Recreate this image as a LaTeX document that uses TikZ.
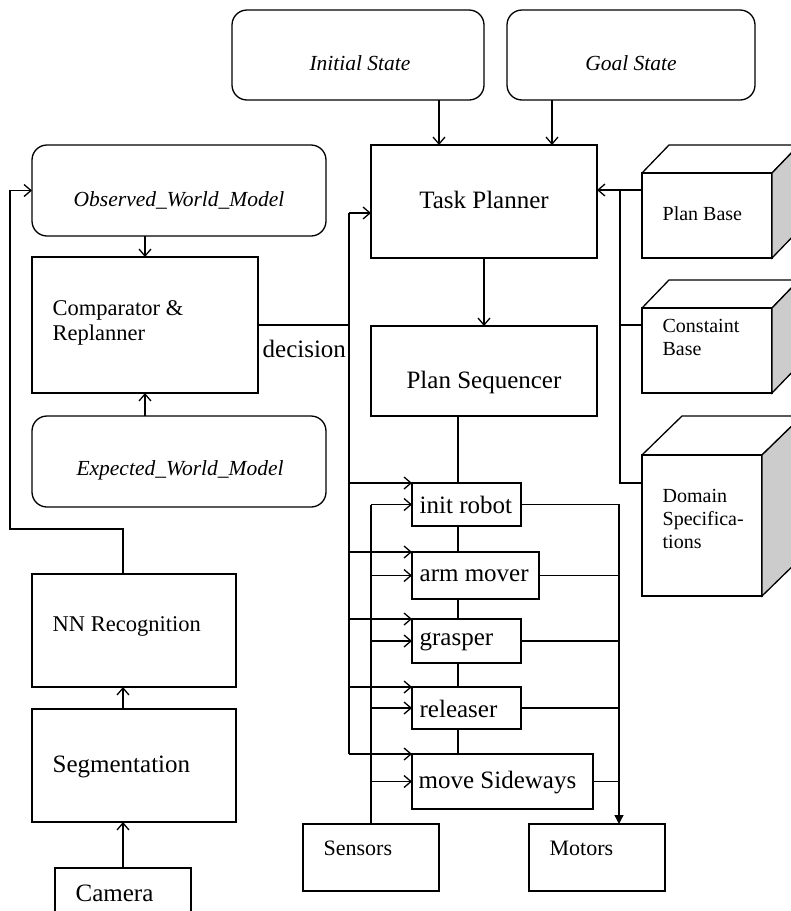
\documentclass[tikz,border=0pt]{standalone}
\usepackage{fontspec}
\setmainfont{Liberation Serif}
\usetikzlibrary{arrows.meta,calc}
\begin{document}
\begin{tikzpicture}[x=1pt,y=-1pt,line width=1.3pt,
  box/.style={draw,anchor=north west,inner sep=0pt,outer sep=0pt},
  rbox/.style={box,rounded corners=15pt},
  arr/.style={-{Straight Barb[length=7pt,width=12pt]}},
  farr/.style={-{Triangle[length=9pt,width=9pt]}},
  tx/.style={inner sep=0pt,anchor=base west},
  tc/.style={inner sep=0pt,anchor=base},
  fA/.style={font=\fontsize{25}{25}\selectfont},
  fB/.style={font=\fontsize{22.5}{25}\selectfont},
  fI/.style={font=\fontsize{21.5}{25}\selectfont\itshape},
  fC/.style={font=\fontsize{20}{23}\selectfont},
  fD/.style={font=\fontsize{22}{25}\selectfont},
  side/.style={draw,fill=black!20}]
\useasboundingbox (0,0) rectangle (791,911);
\clip (0,0) rectangle (791,911);
% boxes
\node[rbox,minimum width=252pt,minimum height=90pt] (ini) at (232,10) {};
\node[rbox,minimum width=248pt,minimum height=90pt] (goal) at (507,10) {};
\node[box,minimum width=226pt,minimum height=113pt] (tp) at (371,145) {};
\node[box,minimum width=226pt,minimum height=90pt] (ps) at (371,326) {};
\node[rbox,minimum width=294pt,minimum height=91pt] (obs) at (32,145) {};
\node[box,minimum width=226pt,minimum height=136pt] (cmp) at (32,257) {};
\node[rbox,minimum width=294pt,minimum height=91pt] (exp) at (32,416) {};
\node[box,minimum width=204pt,minimum height=113pt] (nn) at (32,574) {};
\node[box,minimum width=204pt,minimum height=113pt] (seg) at (32,709) {};
\node[box,minimum width=136pt,minimum height=60pt] (cam) at (55,868) {};
\node[box,minimum width=109pt,minimum height=43pt] (ir) at (412,483) {};
\node[box,minimum width=127pt,minimum height=47pt] (am) at (412,552) {};
\node[box,minimum width=109pt,minimum height=44pt] (gr) at (412,619) {};
\node[box,minimum width=109pt,minimum height=42pt] (rl) at (412,687) {};
\node[box,minimum width=181pt,minimum height=55pt] (ms) at (412,754) {};
\node[box,minimum width=136pt,minimum height=67pt] (sen) at (303,824) {};
\node[box,minimum width=136pt,minimum height=67pt] (mot) at (529,824) {};
\node[box,minimum width=130pt,minimum height=85pt] (pb) at (642,173) {};
\node[box,minimum width=130pt,minimum height=85pt] (cb) at (642,308) {};
\node[box,minimum width=120pt,minimum height=141pt] (ds) at (642,455) {};
% cube faces
\draw (pb.north west) -- ++(27,-28) -- ++(130,0) -- (pb.north east);
\draw[side] (pb.north east) -- ++(27,-28) -- ++(0,85) -- (pb.south east) -- cycle;
\draw (cb.north west) -- ++(27,-28) -- ++(130,0) -- (cb.north east);
\draw[side] (cb.north east) -- ++(27,-28) -- ++(0,85) -- (cb.south east) -- cycle;
\draw (ds.north west) -- ++(40,-39) -- ++(120,0) -- (ds.north east);
\draw[side] (ds.north east) -- ++(40,-39) -- ++(0,141) -- (ds.south east) -- cycle;
% texts
\node[tc,fI] (tini) at (360,70) {Initial State};
\node[tc,fI] (tgoal) at (631,70) {Goal State};
\node[tc,fA] (ttp) at (484,208) {Task Planner};
\node[tc,fA] (tps) at (484,388) {Plan Sequencer};
\node[tc,fI] (tobs) at (179,206) {Observed\_World\_Model};
\node[tc,fI] (texp) at (180,475) {Expected\_World\_Model};
\node[tx,fB,align=left] (tcmp) at (52,340) {Comparator \&\\Replanner};
\node[tx,fA] (tdec) at (262,357) {decision};
\node[tx,fB] (tnn) at (52,631) {NN Recognition};
\node[tx,fA] (tseg) at (52,772) {Segmentation};
\node[tx,fA] (tcam) at (75,901) {Camera};
\node[tx,fA] (tir) at (419,513) {init robot};
\node[tx,fA] (tam) at (419,581) {arm mover};
\node[tx,fA] (tgr) at (419,645) {grasper};
\node[tx,fA] (trl) at (419,717) {releaser};
\node[tx,fA] (tms) at (418,788) {move Sideways};
\node[tx,fD] (tsen) at (323,855) {Sensors};
\node[tx,fD] (tmot) at (549,855) {Motors};
\node[tx,fC] (tpb) at (662,220) {Plan Base};
\node[tx,fC,align=left] (tcb) at (662,355) {Constaint\\Base};
\node[tx,fC,align=left] (tds) at (662,548) {Domain\\Specifica-\\tions};
% planner connectors
\draw[arr] (ini.south -| 439,0) -- (tp.north -| 439,0);
\draw[arr] (goal.south -| 552,0) -- (tp.north -| 552,0);
\draw[arr] (tp.south -| 484,0) -- (ps.north -| 484,0);
\coordinate (rb) at (620,190);
\draw[arr] (pb.west |- rb) -- (tp.east |- rb);
\draw (rb) |- (ds.west |- 0,483);
\draw (cb.west |- 0,325) -- (rb |- 0,325);
% world model connectors
\draw[arr] (obs.south -| cmp.north) -- (cmp.north);
\draw[arr] (exp.north -| cmp.south) -- (cmp.south);
\coordinate (db) at (349,325);
\draw (cmp.east |- db) -- (db);
\draw[arr] (db |- 0,213) -- (tp.west |- 0,213);
\draw (db |- 0,213) -- (db |- ms.north);
\foreach \n in {ir,am,gr,rl,ms}{
  \draw[arr] (db |- \n.north) -- (\n.north west);
  \draw[arr] (sen.north |- \n.west) -- (\n.west);
}
\draw (sen.north) -- (sen.north |- ir.west);
% sequencer chain
\draw (ps.south -| 458,0) -- (ir.north -| 458,0);
\draw (ir.south -| 458,0) -- (am.north -| 458,0);
\draw (am.south -| 458,0) -- (gr.north -| 458,0);
\draw (gr.south -| 458,0) -- (rl.north -| 458,0);
\draw (rl.south -| 458,0) -- (ms.north -| 458,0);
% motors
\coordinate (mb) at (619,0);
\draw[farr] (ir.east) -| (mot.north -| mb);
\foreach \n in {am,gr,rl,ms}{
  \draw (\n.east) -- (\n.east -| mb);
}
% vision chain
\draw[arr] (cam.north) -- (seg.south -| cam.north);
\draw[arr] (seg.north -| cam.north) -- (nn.south -| cam.north);
\draw[arr] (nn.north -| cam.north) -- (cam.north |- 0,529) -- (10,529) |- (obs.west);
\end{tikzpicture}
\end{document}
